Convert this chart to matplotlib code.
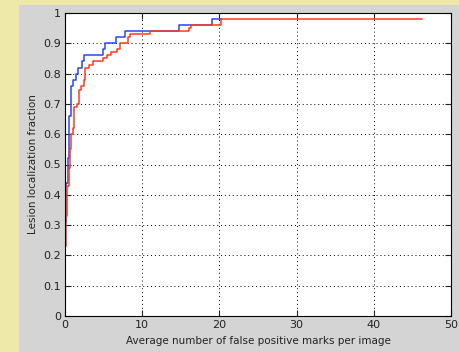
import numpy
import matplotlib
matplotlib.use('Agg')
import matplotlib.pyplot as plt
from matplotlib.patches import Rectangle

# curva azul (pontos onde o degrau acontece)
azulX = [0, 0, 0.15, 0.35, 0.55, 0.8, 1.08, 1.38, 1.73, 2.24, 2.42, 4.88, 5.18, 6.65, 7.8, 14.8, 19.1, 20.2]
azulY = [0, 0.31, 0.44, 0.52, 0.66, 0.76, 0.78, 0.80, 0.82, 0.84, 0.86, 0.88, 0.90, 0.92, 0.94, 0.96, 0.98, 0.98]

# curva vermelha
vermX = [0, 0, 0.12, 0.3, 0.5, 0.65, 0.8, 1.0, 1.2, 1.5, 1.8, 2.07, 2.4, 2.63, 3.07, 3.67, 4.88, 5.48,
         5.96, 6.77, 7.12, 8.12, 8.42, 11.0, 16.06, 16.3, 20.2, 46.3]
vermY = [0, 0.23, 0.33, 0.43, 0.49, 0.55, 0.60, 0.62, 0.69, 0.70, 0.745, 0.76, 0.78, 0.82, 0.83, 0.84, 0.85, 0.86,
         0.87, 0.88, 0.90, 0.92, 0.93, 0.94, 0.95, 0.96, 0.98, 0.98]

xTicks = [0, 10, 20, 30, 40, 50]
yTicks = [0, 0.1, 0.2, 0.3, 0.4, 0.5, 0.6, 0.7, 0.8, 0.9, 1]
yTickLabels = ['0', '0.1', '0.2', '0.3', '0.4', '0.5', '0.6', '0.7', '0.8', '0.9', '1']


def main():
    fig = plt.figure(figsize=(4.6, 3.52), dpi=100, facecolor='#d4d4d4')
    # faixas amarelas na esquerda e em cima
    amarelo = '#efe9a9'
    fig.patches.append(Rectangle((0, 0), 19/460, 1, transform=fig.transFigure,
                                 facecolor=amarelo, edgecolor='none'))
    fig.patches.append(Rectangle((0, (352-5)/352), 1, 5/352, transform=fig.transFigure,
                                 facecolor=amarelo, edgecolor='none'))

    ax = fig.add_axes([65/460, 36/352, 386/460, 303/352])
    ax.set_facecolor('white')

    ax.step(azulX, azulY, where='post', color='#2846ff', linewidth=1.1)
    ax.step(vermX, vermY, where='post', color='#ff3a1c', linewidth=1.1)

    ax.set_xlim(0, 50)
    ax.set_ylim(0, 1)
    ax.set_xticks(xTicks)
    ax.set_yticks(yTicks)
    ax.set_yticklabels(yTickLabels)
    ax.grid(True, color='black', linestyle=(0, (1, 3)), linewidth=0.7)
    ax.tick_params(direction='in', top=True, right=True, labelsize=8, length=4, pad=3, colors='#222222')
    for s in ax.spines.values():
        s.set_linewidth(0.8)

    ax.set_xlabel('Average number of false positive marks per image', fontsize=7.5, labelpad=4, color='#222222')
    ax.set_ylabel('Lesion localization fraction', fontsize=7.5, labelpad=4, color='#222222')

    fig.savefig('out.png', dpi=100, facecolor=fig.get_facecolor())


if __name__ == '__main__':
    main()
